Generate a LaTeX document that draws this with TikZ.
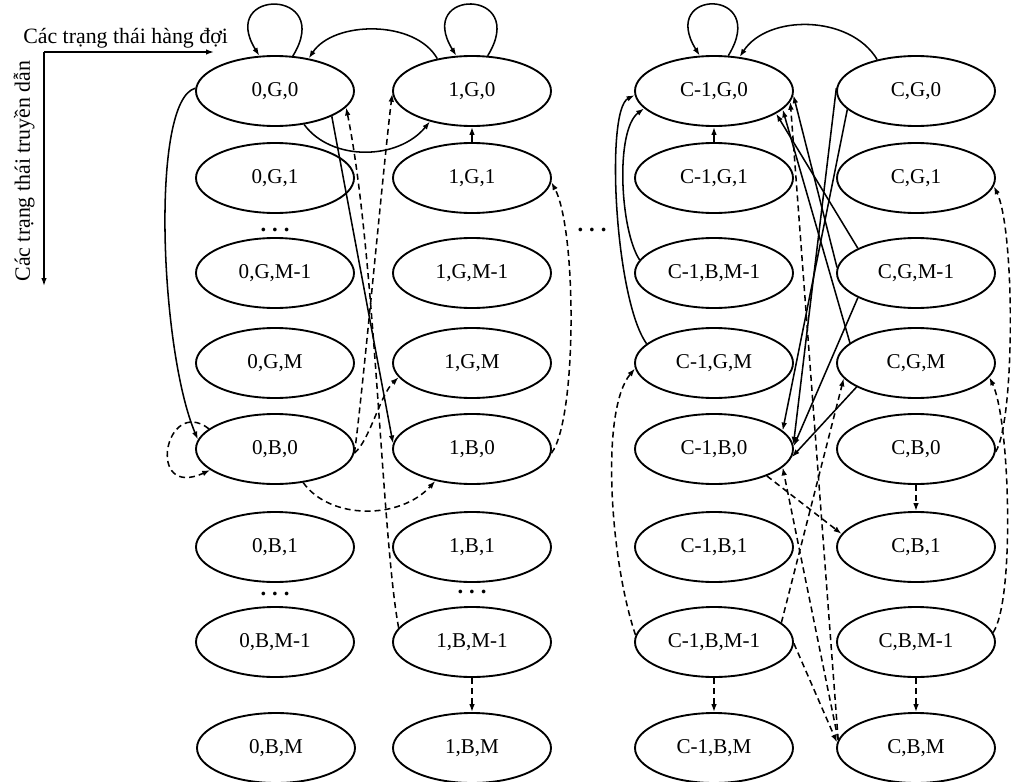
\documentclass[tikz,border=0pt]{standalone}
\usepackage{fontspec}
\setmainfont{Liberation Serif}
\usetikzlibrary{shapes.geometric,arrows.meta}
\begin{document}
\begin{tikzpicture}[x=0.75pt,y=-0.75pt,
  st/.style={ellipse,draw,line width=1.4pt,minimum width=118.5pt,minimum height=52.5pt,
             inner sep=0pt,font=\fontsize{15.8}{18}\selectfont},
  tr/.style={line width=1.15pt,-{Latex[length=6pt,width=4.2pt]}},
  dtr/.style={tr,dash pattern=on 4.5pt off 3pt},
  lab/.style={font=\fontsize{16.4}{19}\selectfont,inner sep=0pt},
  dots/.style={font=\bfseries\fontsize{17}{18}\selectfont,inner sep=0pt,anchor=base}]

\useasboundingbox (0,0) rectangle (1011,782);

% axes
\coordinate (org) at (44,52);
\coordinate (hx) at (214,52);
\coordinate (vy) at (44,286);
\draw[tr,line width=1.2pt] (org) -- (hx);
\draw[tr,line width=1.2pt] (org) -- (vy);
\node[lab,anchor=base west] (hq) at (23,43) {Các trạng thái hàng đợi};
\node[lab,anchor=base,rotate=90] (vq) at (30,171) {Các trạng thái truyền dẫn};

% column 0
\node[st] (a0) at (275,91)  {0,G,0};
\node[st] (a1) at (275,178) {0,G,1};
\node[st] (a2) at (275,273) {0,G,M-1};
\node[st] (a3) at (275,363) {0,G,M};
\node[st] (a4) at (275,449) {0,B,0};
\node[st] (a5) at (275,547) {0,B,1};
\node[st] (a6) at (275,642) {0,B,M-1};
\node[st] (a7) at (276,748) {0,B,M};
% column 1
\node[st] (b0) at (472,91)  {1,G,0};
\node[st] (b1) at (472,178) {1,G,1};
\node[st] (b2) at (472,273) {1,G,M-1};
\node[st] (b3) at (472,363) {1,G,M};
\node[st] (b4) at (472,449) {1,B,0};
\node[st] (b5) at (472,547) {1,B,1};
\node[st] (b6) at (472,642) {1,B,M-1};
\node[st] (b7) at (472,748) {1,B,M};
% column C-1
\node[st] (c0) at (714,91)  {C-1,G,0};
\node[st] (c1) at (714,178) {C-1,G,1};
\node[st] (c2) at (714,273) {C-1,B,M-1};
\node[st] (c3) at (714,363) {C-1,G,M};
\node[st] (c4) at (714,449) {C-1,B,0};
\node[st] (c5) at (714,547) {C-1,B,1};
\node[st] (c6) at (714,642) {C-1,B,M-1};
\node[st] (c7) at (714,748) {C-1,B,M};
% column C
\node[st] (d0) at (916,91)  {C,G,0};
\node[st] (d1) at (916,178) {C,G,1};
\node[st] (d2) at (916,273) {C,G,M-1};
\node[st] (d3) at (916,363) {C,G,M};
\node[st] (d4) at (916,449) {C,B,0};
\node[st] (d5) at (916,547) {C,B,1};
\node[st] (d6) at (916,642) {C,B,M-1};
\node[st] (d7) at (916,748) {C,B,M};

% ellipsis marks
\node[dots] (ad1) at (275,231) {.\hspace{4.5pt}.\hspace{4.5pt}.};
\node[dots] (ad2) at (275,595) {.\hspace{4.5pt}.\hspace{4.5pt}.};
\node[dots] (bd2) at (472,593) {.\hspace{4.5pt}.\hspace{4.5pt}.};
\node[dots] (md)  at (592,231) {.\hspace{4.5pt}.\hspace{4.5pt}.};

% self loops
\draw[tr] (a0.63) .. controls +(42,-68) and +(-42,-68) .. (a0.114);
\draw[tr] (b0.66) .. controls +(42,-68) and +(-42,-68) .. (b0.114);
\draw[tr] (c0.68) .. controls +(42,-68) and +(-42,-68) .. (c0.112);

% transitions among columns 0 and 1
\draw[tr] (b0.137) .. controls +(-22,-39) and +(25,-38) .. (a0.44);
\draw[tr] (a0.-49) .. controls +(27,37) and +(-32,39) .. (b0.216);
\draw[tr] (b1) -- (b0);
\draw[tr] (a0.178) .. controls (150,100) and (160,350) .. (a4.173);
\draw[tr] (a0.-24) -- (b4.176);
\draw[dtr] (a4.163) .. controls (165,395) and (145,500) .. (a4.198);
\draw[dtr] (a4.-3) .. controls (362,400) and (385,150) .. (b0.182);
\draw[dtr] (b6.169) .. controls (382,540) and (375,250) .. (a0.-13);
\draw[dtr] (a4.-3) .. controls (370,440) and (380,395) .. (b3.191);
\draw[dtr] (a4.-50) .. controls (330,520) and (400,520) .. (b4.221);
\draw[dtr] (b4.-3) .. controls (577,420) and (577,230) .. (b1.-3);
\draw[dtr] (b6) -- (b7);

% transitions among columns C-1 and C
\draw[tr] (d0.141) .. controls +(-27,-45) and +(28,-43) .. (c0.53);
\draw[tr] (c1) -- (c0);
\draw[tr] (c3.164) .. controls (615,300) and (605,110) .. (c0.183);
\draw[tr] (c2.170) .. controls (620,230) and (615,130) .. (c0.194);
\draw[dtr] (c6.175) .. controls (610,560) and (600,410) .. (c3.184);
\draw[dtr] (c6) -- (c7);
\draw[dtr] (d6) -- (d7);
\draw[dtr] (d4) -- (d5);
\draw[dtr] (c4.-27) -- (d5.170);
\draw[dtr] (d4.-2) .. controls (1015,420) and (1015,230) .. (d1.-6);
\draw[dtr] (d6.7) .. controls (1015,600) and (1010,420) .. (d3.-11);
\draw[dtr] (d7.174) -- (c0.-8);
\draw[dtr] (d7.174) -- (c4.-15);
\draw[dtr] (c6.-1) -- (d7.176);
\draw[dtr] (c6.16) -- (d3.192);
\draw[tr] (d0.178) -- (c4.3);
\draw[tr] (d0.195) -- (c4.15);
\draw[tr] (d2.203) -- (c4.2);
\draw[tr] (d3.202) -- (c4.-6);
\draw[tr] (d2.157) -- (c0.-20);
\draw[tr] (d3.163) -- (c0.-15);
\draw[tr] (d2.176) -- (c0.-3);
\end{tikzpicture}
\end{document}
